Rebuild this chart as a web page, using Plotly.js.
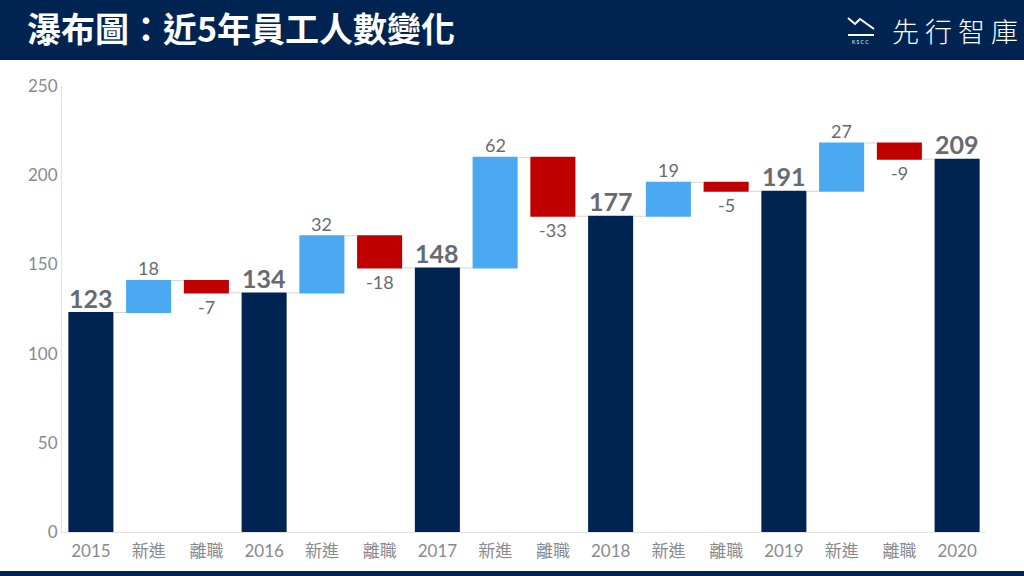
<!DOCTYPE html>
<html>
<head>
<meta charset="utf-8">
<script src="https://cdn.plot.ly/plotly-3.0.1.min.js"></script>
<style>
html,body{margin:0;padding:0;background:#fff;}
#chart{width:1024px;height:576px;}
</style>
</head>
<body>
<div id="chart"></div>
<script>
// ---- data ----
const categories = ["2015","新進","離職","2016","新進","離職","2017","新進","離職","2018","新進","離職","2019","新進","離職","2020"];
const values = [123, 18, -7, 134, 32, -18, 148, 62, -33, 177, 19, -5, 191, 27, -9, 209];
const measures = ["absolute","relative","relative","total","relative","relative","total","relative","relative","total","relative","relative","total","relative","relative","total"];
const yTicks = [0, 50, 100, 150, 200, 250];

const NAVY = "#002452";
const BLUE = "#4AA9F0";
const RED = "#C00000";
const LABEL = "#676B71";
const TICK = "#878A8F";
const FONT = "Lato, 'Noto Sans CJK TC', sans-serif";

const xs = categories.map((c, i) => i);

// running totals for label placement
let run = 0;
const tops = [], bottoms = [];
values.forEach((v, i) => {
  const m = measures[i];
  if (m === "absolute") { run = v; tops.push(v); bottoms.push(0); }
  else if (m === "total") { tops.push(run); bottoms.push(0); }
  else { const prev = run; run += v; tops.push(Math.max(prev, run)); bottoms.push(Math.min(prev, run)); }
});

const annotations = values.map((v, i) => {
  const m = measures[i];
  const isTotal = m !== "relative";
  if (isTotal) {
    return {x: i, y: tops[i], xref: "x", yref: "y", text: "<b>" + v + "</b>", showarrow: false,
      yanchor: "bottom", yshift: -2, font: {family: FONT, size: 25, color: LABEL}};
  }
  if (v >= 0) {
    return {x: i, y: tops[i], xref: "x", yref: "y", text: String(v), showarrow: false,
      yanchor: "bottom", yshift: -1, font: {family: FONT, size: 18, color: LABEL}};
  }
  return {x: i, y: bottoms[i], xref: "x", yref: "y", text: String(v), showarrow: false,
    yanchor: "top", yshift: -1, font: {family: FONT, size: 18, color: LABEL}};
});

// header logo text
annotations.push({xref: "paper", yref: "paper", x: (890 - 62) / 924, y: (532 - 30) / 446,
  xanchor: "left", yanchor: "middle", showarrow: false, text: "先 行 智 庫",
  font: {family: "'Noto Sans CJK TC', sans-serif", size: 27, color: "#ffffff", weight: 300}});
annotations.push({xref: "paper", yref: "paper", x: (860 - 62) / 924, y: (532 - 42) / 446,
  xanchor: "center", yanchor: "middle", showarrow: false, text: "K S C C",
  font: {family: FONT, size: 5, color: "#ffffff"}});

function px2x(p) { return (p - 62) / 924; }
function px2y(p) { return (532 - p) / 446; }

const shapes = [
  {type: "rect", xref: "paper", yref: "paper", x0: px2x(0), x1: px2x(1024), y0: px2y(60), y1: px2y(0),
    fillcolor: NAVY, line: {width: 0}, layer: "below"},
  {type: "rect", xref: "paper", yref: "paper", x0: px2x(0), x1: px2x(1024), y0: px2y(576), y1: px2y(571),
    fillcolor: NAVY, line: {width: 0}, layer: "below"},
  {type: "path", xref: "paper", yref: "paper",
    path: "M " + px2x(848) + " " + px2y(18) + " L " + px2x(855) + " " + px2y(24) + " L " + px2x(860) + " " + px2y(19) + " L " + px2x(874) + " " + px2y(29),
    line: {color: "#ffffff", width: 2}},
  {type: "line", xref: "paper", yref: "paper", x0: px2x(848), x1: px2x(874), y0: px2y(35), y1: px2y(35),
    line: {color: "#ffffff", width: 2}}
];

const trace = {
  type: "waterfall",
  x: xs,
  y: values,
  measure: measures,
  width: 0.78,
  increasing: {marker: {color: BLUE, line: {width: 0}}},
  decreasing: {marker: {color: RED, line: {width: 0}}},
  totals: {marker: {color: NAVY, line: {width: 0}}},
  connector: {mode: "between", line: {color: "#D4D4D4", width: 1}},
  hoverinfo: "none",
  textinfo: "none"
};

const layout = {
  width: 1024, height: 576,
  margin: {l: 62, r: 38, t: 86, b: 44},
  paper_bgcolor: "#ffffff",
  plot_bgcolor: "#ffffff",
  showlegend: false,
  title: {text: "<b>瀑布圖：近5年員工人數變化</b>", xref: "container", yref: "container",
    x: 27 / 1024, y: 1 - 30 / 576, xanchor: "left", yanchor: "middle",
    font: {family: "'Noto Sans CJK TC', sans-serif", size: 34, color: "#ffffff"}},
  xaxis: {
    range: [-0.5, 15.5],
    tickmode: "array", tickvals: xs, ticktext: categories,
    showgrid: false, zeroline: false,
    showline: true, linecolor: "#E3E3E3", linewidth: 1,
    ticks: "", ticklabelstandoff: 4, tickfont: {family: FONT, size: 17, color: TICK}
  },
  yaxis: {
    range: [0, 250],
    tickmode: "array", tickvals: yTicks, ticktext: yTicks.map(String),
    showgrid: false, zeroline: false,
    showline: true, linecolor: "#E3E3E3", linewidth: 1,
    ticks: "", ticklen: 0, tickfont: {family: FONT, size: 17, color: TICK}
  },
  shapes: shapes,
  annotations: annotations
};

Plotly.newPlot("chart", [trace], layout, {displayModeBar: false, staticPlot: true});
</script>
</body>
</html>
